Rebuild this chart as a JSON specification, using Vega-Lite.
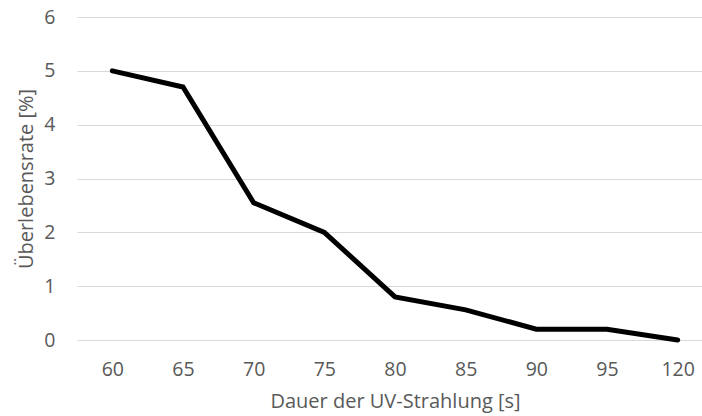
{
  "$schema": "https://vega.github.io/schema/vega-lite/v6.json",
  "autosize": "none",
  "padding": {"left": 77, "top": 17, "right": 0, "bottom": 76},
  "width": 625,
  "height": 323,
  "background": "white",
  "config": {
    "view": {"stroke": null},
    "font": "Open Sans",
    "axis": {"labelFont": "Open Sans", "titleFont": "Open Sans", "labelColor": "#595959", "titleColor": "#595959", "labelFontSize": 19.5, "titleFontSize": 20, "titleFontWeight": "normal"}
  },
  "data": {"values": [
    {"dauer": "60", "rate": 5.0},
    {"dauer": "65", "rate": 4.7},
    {"dauer": "70", "rate": 2.55},
    {"dauer": "75", "rate": 2.0},
    {"dauer": "80", "rate": 0.8},
    {"dauer": "85", "rate": 0.56},
    {"dauer": "90", "rate": 0.2},
    {"dauer": "95", "rate": 0.2},
    {"dauer": "120", "rate": 0.0}
  ]},
  "mark": {"type": "line", "color": "black", "strokeWidth": 5, "strokeCap": "round", "strokeJoin": "miter"},
  "encoding": {
    "x": {"field": "dauer", "type": "ordinal", "sort": null, "scale": {"type": "point", "padding": 0.5, "range": [0, 636]},
      "axis": {"title": "Dauer der UV-Strahlung [s]", "labelAngle": 0, "ticks": false, "domain": false, "grid": false, "labelPadding": 20, "titlePadding": 13, "titleX": 318}},
    "y": {"field": "rate", "type": "quantitative", "scale": {"domain": [0, 6]},
      "axis": {"title": "Überlebensrate [%]", "values": [0,1,2,3,4,5,6], "ticks": false, "domain": false, "gridColor": "#d9d9d9", "gridWidth": 1, "labelPadding": 22, "titlePadding": 7}}
  }
}
